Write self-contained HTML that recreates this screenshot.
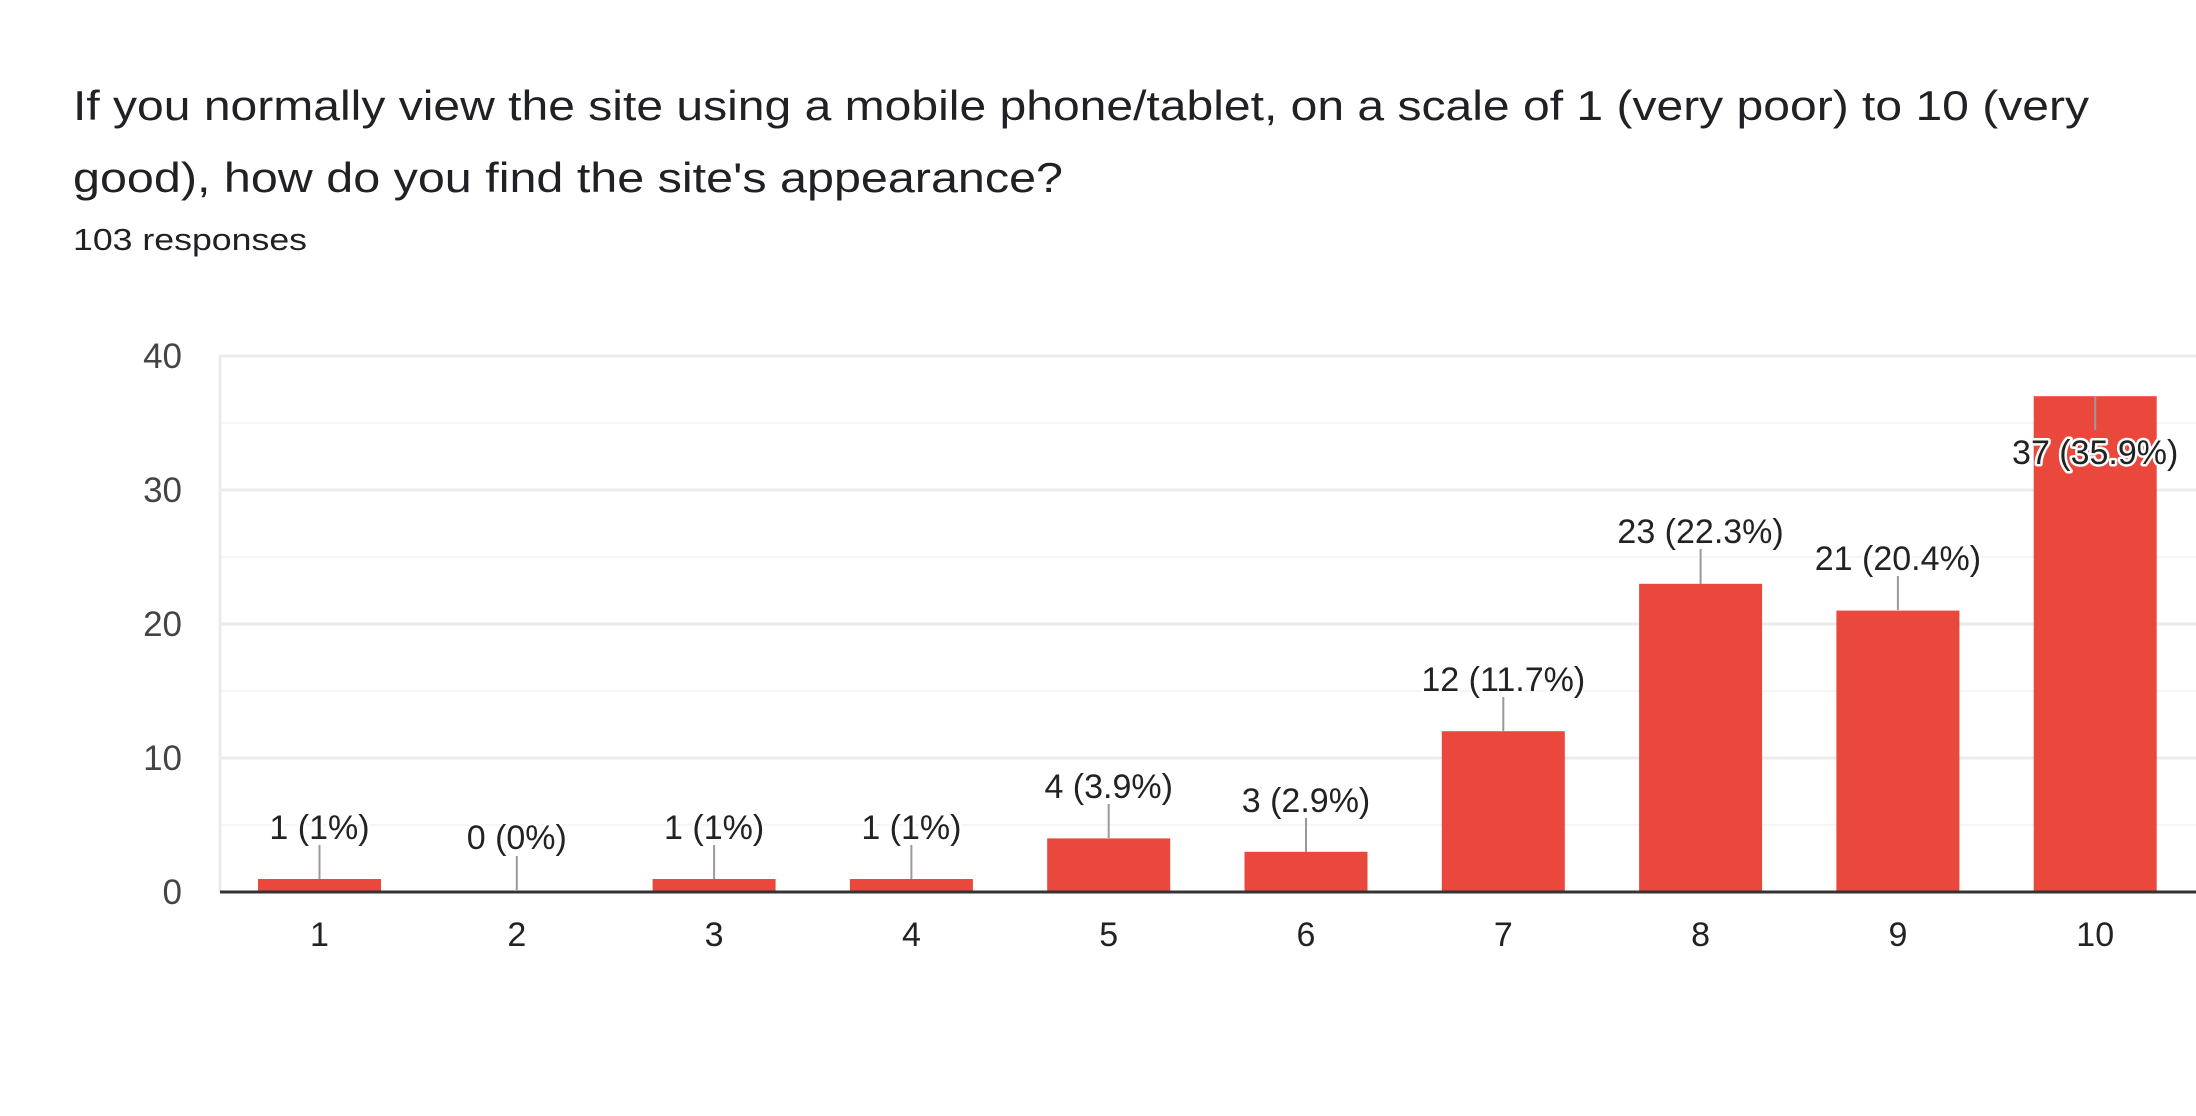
<!DOCTYPE html>
<html><head><meta charset="utf-8"><style>
html,body{margin:0;padding:0;background:#fff;width:2196px;height:1116px;overflow:hidden}
svg{display:block}
</style></head><body>
<svg width="2196" height="1116" xmlns="http://www.w3.org/2000/svg" font-family="Liberation Sans, Arial, sans-serif">
<text x="73" y="120" font-size="42" fill="#202124" textLength="2016" lengthAdjust="spacingAndGlyphs">If you normally view the site using a mobile phone/tablet, on a scale of 1 (very poor) to 10 (very</text>
<text x="73" y="192" font-size="42" fill="#202124" textLength="990" lengthAdjust="spacingAndGlyphs">good), how do you find the site's appearance?</text>
<text x="73" y="250" font-size="31" fill="#202124" textLength="234" lengthAdjust="spacingAndGlyphs">103 responses</text>
<g stroke="#f5f5f5" stroke-width="2">
<line x1="220" x2="2196" y1="423" y2="423"/><line x1="220" x2="2196" y1="557" y2="557"/><line x1="220" x2="2196" y1="691" y2="691"/><line x1="220" x2="2196" y1="825" y2="825"/>
</g>
<g stroke="#ebebeb" stroke-width="3">
<line x1="219" x2="2196" y1="356" y2="356"/><line x1="220" x2="2196" y1="490" y2="490"/><line x1="220" x2="2196" y1="624" y2="624"/><line x1="220" x2="2196" y1="758" y2="758"/>
<line x1="220" x2="220" y1="355" y2="892"/>
</g>
<g font-size="35" fill="#444" text-anchor="end">
<text x="182" y="368">40</text><text x="182" y="502">30</text><text x="182" y="636">20</text><text x="182" y="770">10</text><text x="182" y="904">0</text>
</g>
<g fill="#ea483c">
<rect x="258" y="879" width="123" height="13"/>
<rect x="652.6" y="879" width="123" height="13"/>
<rect x="849.9" y="879" width="123" height="13"/>
<rect x="1047.2" y="838.4" width="123" height="53.6"/>
<rect x="1244.5" y="851.8" width="123" height="40.2"/>
<rect x="1441.8" y="731.2" width="123" height="160.8"/>
<rect x="1639.1" y="583.8" width="123" height="308.2"/>
<rect x="1836.4" y="610.6" width="123" height="281.4"/>
<rect x="2033.7" y="396.2" width="123" height="495.8"/>
</g>
<line x1="220" x2="2196" y1="892" y2="892" stroke="#333" stroke-width="3"/>
<g stroke="#999" stroke-width="2">
<line x1="319.5" x2="319.5" y1="845" y2="879"/>
<line x1="516.8" x2="516.8" y1="856" y2="891"/>
<line x1="714.1" x2="714.1" y1="845" y2="879"/>
<line x1="911.4" x2="911.4" y1="845" y2="879"/>
<line x1="1108.7" x2="1108.7" y1="804" y2="838"/>
<line x1="1306" x2="1306" y1="818" y2="852"/>
<line x1="1503.3" x2="1503.3" y1="697" y2="731"/>
<line x1="1700.6" x2="1700.6" y1="549" y2="584"/>
<line x1="1897.9" x2="1897.9" y1="576" y2="610"/>
<line x1="2095.2" x2="2095.2" y1="396" y2="430"/>
</g>
<g font-size="34" fill="#222" text-anchor="middle" stroke="#fff" stroke-width="5" paint-order="stroke" stroke-linejoin="round">
<text x="319.5" y="839">1 (1%)</text>
<text x="516.8" y="849">0 (0%)</text>
<text x="714.1" y="839">1 (1%)</text>
<text x="911.4" y="839">1 (1%)</text>
<text x="1108.7" y="798">4 (3.9%)</text>
<text x="1306" y="812">3 (2.9%)</text>
<text x="1503.3" y="691">12 (11.7%)</text>
<text x="1700.6" y="543">23 (22.3%)</text>
<text x="1897.9" y="570">21 (20.4%)</text>
<text x="2095.2" y="464">37 (35.9%)</text>
</g>
<g font-size="34" fill="#222" text-anchor="middle">
<text x="319.5" y="946">1</text><text x="516.8" y="946">2</text><text x="714.1" y="946">3</text><text x="911.4" y="946">4</text><text x="1108.7" y="946">5</text><text x="1306" y="946">6</text><text x="1503.3" y="946">7</text><text x="1700.6" y="946">8</text><text x="1897.9" y="946">9</text><text x="2095.2" y="946">10</text>
</g>
</svg>
</body></html>
